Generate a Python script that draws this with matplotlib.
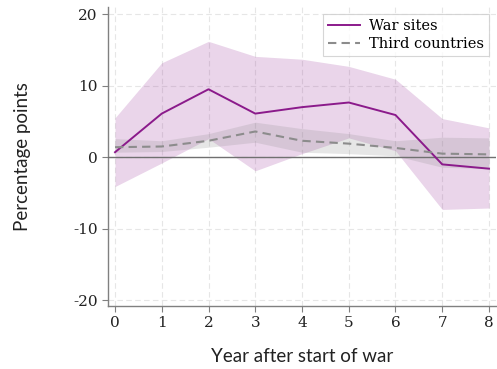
import matplotlib
matplotlib.use("Agg")
import matplotlib.pyplot as plt
import numpy as np

plt.rcParams['axes.unicode_minus'] = False

years = [0, 1, 2, 3, 4, 5, 6, 7, 8]
war = [0.7, 6.1, 9.5, 6.1, 7.0, 7.65, 5.9, -1.0, -1.6]
war_hi = [5.5, 13.2, 16.2, 14.1, 13.7, 12.7, 10.9, 5.4, 4.1]
war_lo = [-4.1, -0.8, 2.6, -1.9, 0.5, 2.7, 0.9, -7.3, -7.1]
third = [1.4, 1.5, 2.3, 3.6, 2.3, 1.9, 1.3, 0.5, 0.4]
third_hi = [2.6, 2.3, 3.3, 4.9, 4.0, 3.3, 2.3, 2.8, 2.7]
third_lo = [0.7, 0.8, 1.4, 2.1, 0.7, 0.5, 0.2, -1.4, -1.6]
yticks = [-20, -10, 0, 10, 20]

fig = plt.figure(figsize=(4.97, 3.69), dpi=100)
ax = fig.add_axes([0.2173, 0.1707, 0.7807, 0.8103])

ax.fill_between(years, war_lo, war_hi, color='#a040a0', alpha=0.22, linewidth=0, zorder=2)
ax.fill_between(years, third_lo, third_hi, color='#909090', alpha=0.22, linewidth=0, zorder=3)
ax.axhline(0, color='#707070', linewidth=1.0, zorder=4)
ax.plot(years, war, color='#8b1a8b', linewidth=1.4, label='War sites', zorder=5)
ax.plot(years, third, color='#8c8c8c', linewidth=1.5, linestyle=(0, (4, 2.5)), label='Third countries', zorder=5)

ax.set_xlim(-0.15, 8.15)
ax.set_ylim(-20.8, 21)
ax.set_xticks(years)
ax.set_yticks(yticks)
ax.grid(True, color='#e6e6e6', linestyle=(0, (5, 3)), linewidth=0.8, zorder=0)
ax.set_axisbelow(True)

for s in ['top', 'right']:
    ax.spines[s].set_visible(False)
for s in ['left', 'bottom']:
    ax.spines[s].set_color('#808080')
    ax.spines[s].set_linewidth(1.0)
ax.tick_params(axis='both', colors='#808080', length=4, width=0.8, labelcolor='#222222')
for lab in ax.get_xticklabels() + ax.get_yticklabels():
    lab.set_fontfamily('DejaVu Serif')
    lab.set_fontsize(11)

ax.set_xlabel('Year after start of war', fontfamily='Lato', fontsize=13.5, color='#222222', labelpad=13)
ax.set_ylabel('Percentage points', fontfamily='Lato', fontsize=13.5, color='#222222', labelpad=30)

leg = ax.legend(loc='upper right', bbox_to_anchor=(0.993, 0.99), prop={'family': 'DejaVu Serif', 'size': 10.5},
                frameon=True, fancybox=False, edgecolor='#cccccc', handlelength=2.2,
                borderpad=0.35, labelspacing=0.25, handletextpad=0.6, borderaxespad=0.3)
leg.get_frame().set_linewidth(0.8)

fig.savefig('out.png', dpi=100)
